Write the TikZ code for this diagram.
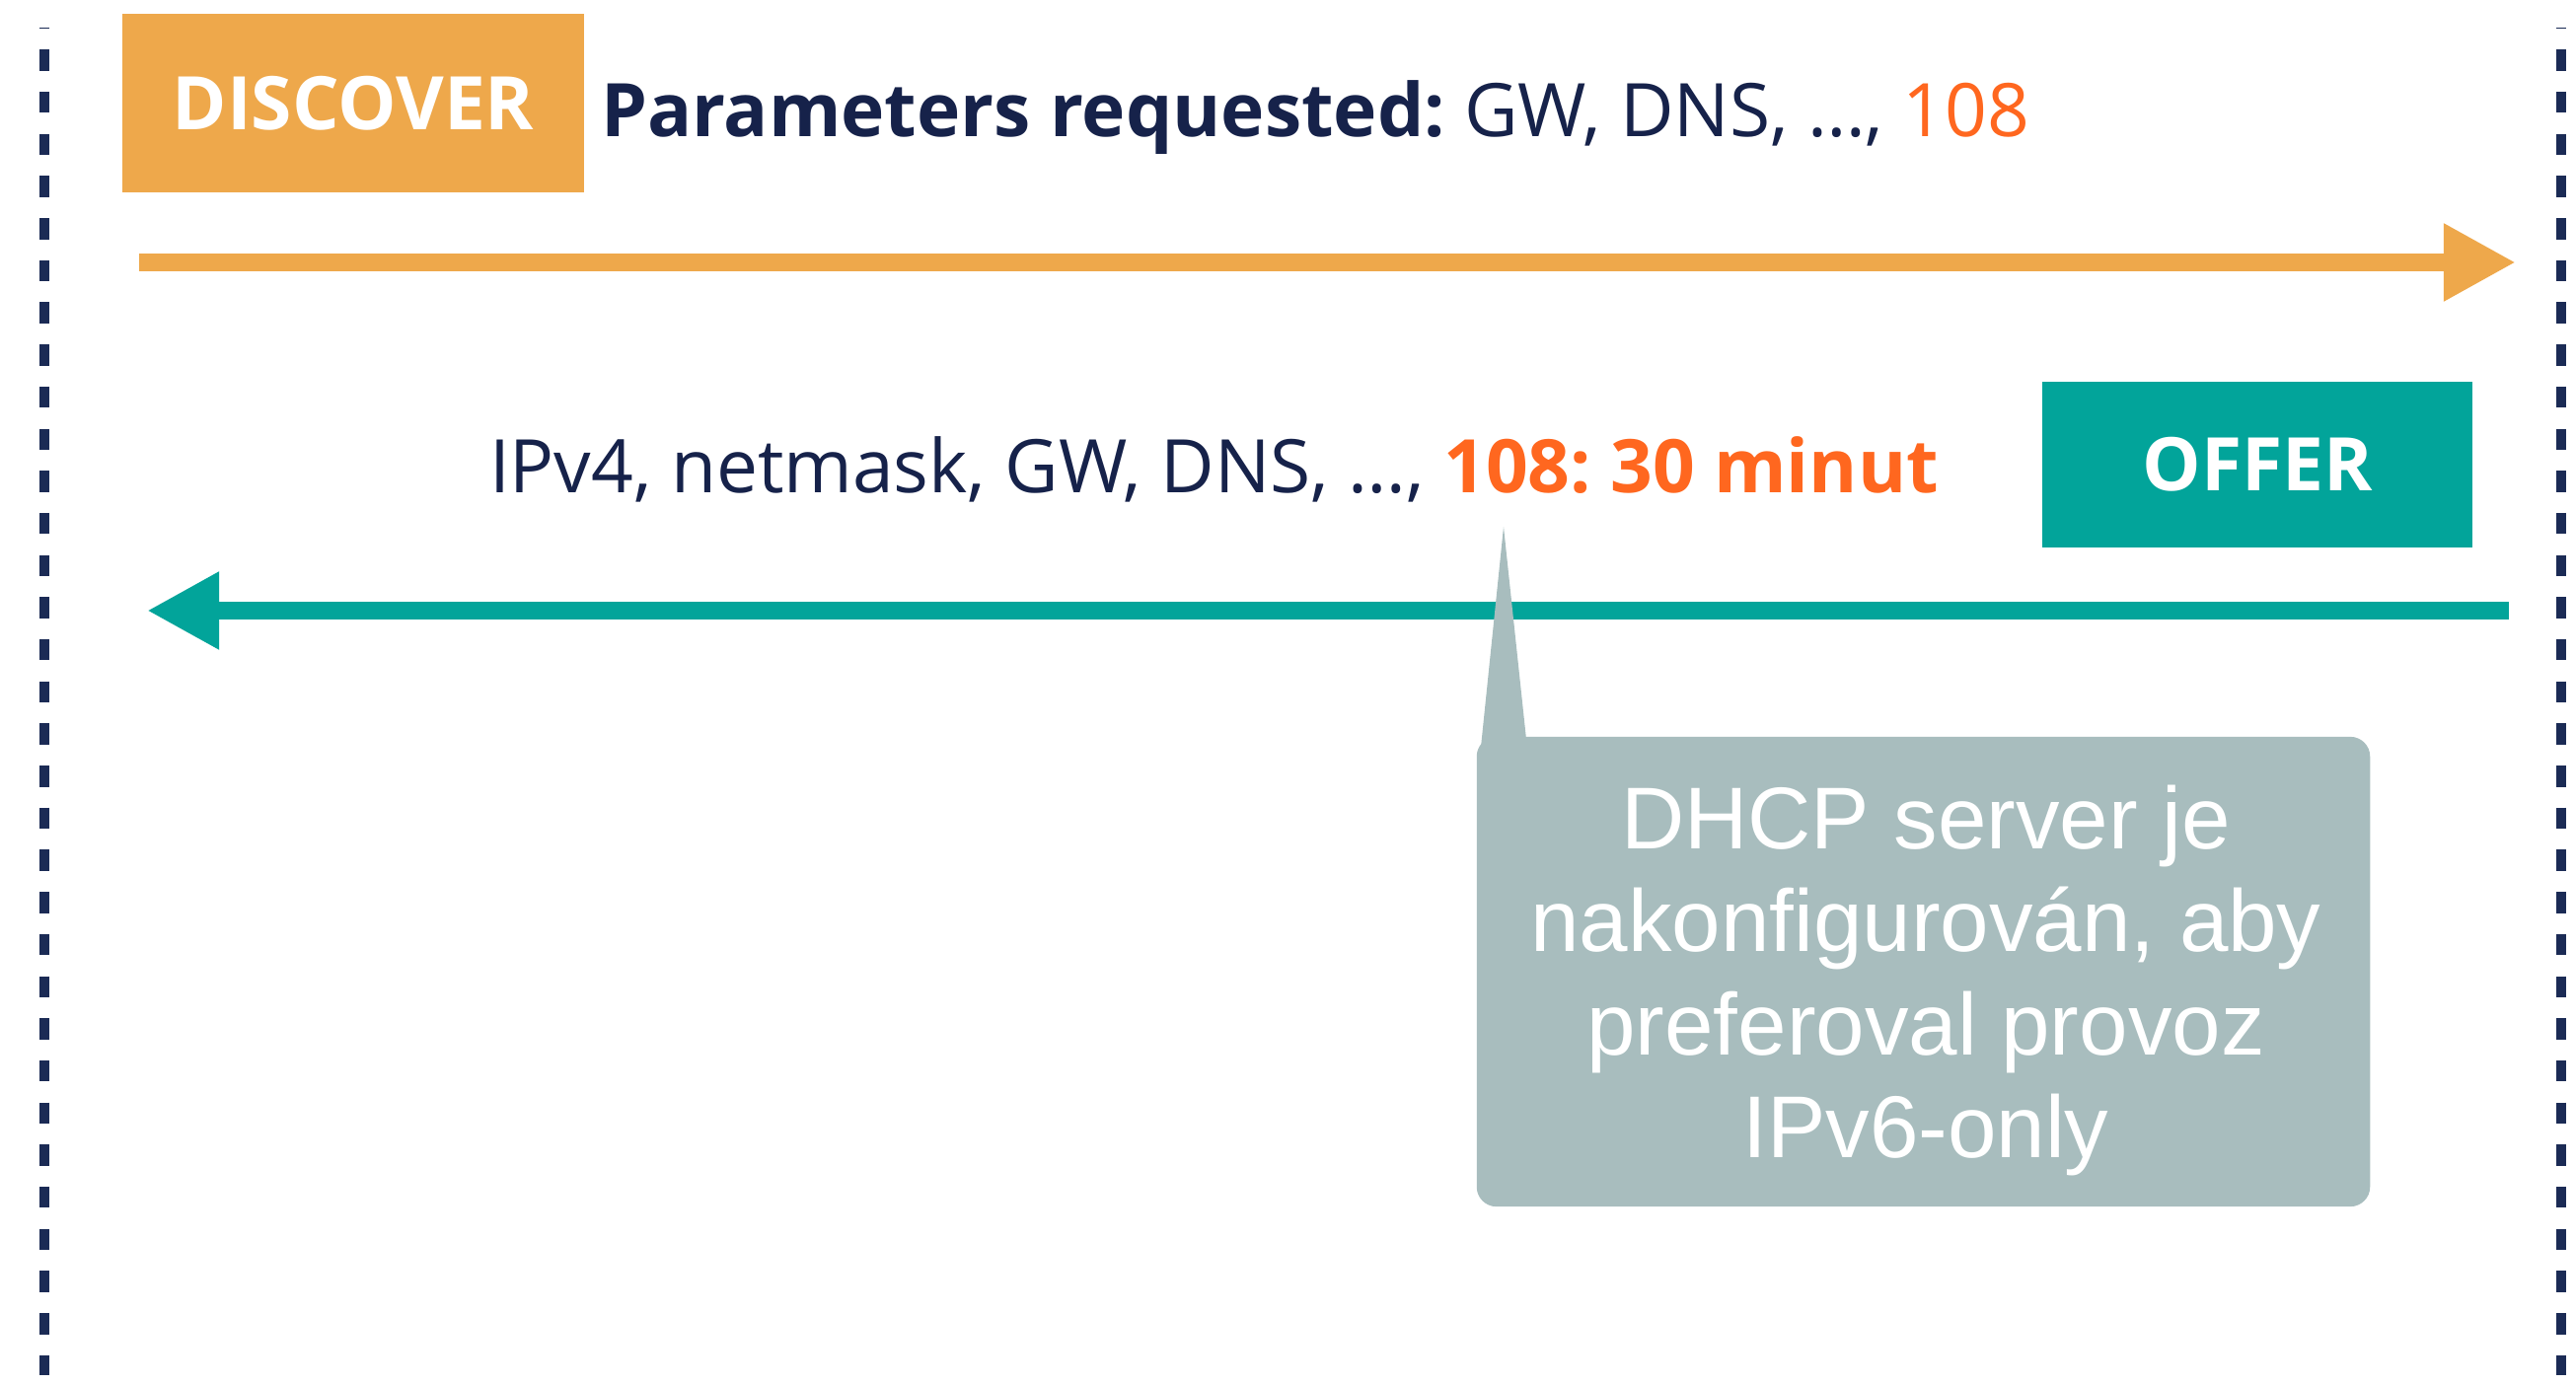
\documentclass[tikz,border=0pt]{standalone}
\usepackage{fontspec}
\setmainfont{Open Sans}
\newfontfamily\notefont{Liberation Sans}
\usepackage{tikz}
\usetikzlibrary{arrows.meta,positioning,calc}
\frenchspacing

\definecolor{discorange}{HTML}{EEA84B}
\definecolor{offerteal}{HTML}{02A49A}
\definecolor{navy}{HTML}{16224A}
\definecolor{hilite}{HTML}{FF671F}
\definecolor{notegrey}{HTML}{A8BDBE}
\definecolor{lifeline}{HTML}{1B2B55}

\begin{document}
\begin{tikzpicture}[x=0.01cm, y=-0.01cm, every node/.style={inner sep=0pt, outer sep=0pt},
	msgbox/.style={text=white, font=\bfseries\fontsize{21.3}{25}\selectfont},
	msgtext/.style={text=navy, anchor=base west, font=\fontsize{21.3}{25}\selectfont},
	life/.style={lifeline, line width=3.1pt, dash pattern=on 6.12pt off 6.02pt, dash phase=5.8pt},
	msg/.style={line width=5.2pt, -{Triangle[length=20.8pt, width=21pt]}},
	notetext/.style={text=white, align=center, font=\notefont\fontsize{25.3}{29.6}\selectfont}]

	\useasboundingbox (0,0) rectangle (2611,1404);

	\coordinate (cliTop) at (45,28);
	\coordinate (cliBot) at (45,1394);
	\coordinate (srvTop) at (2596,28);
	\coordinate (srvBot) at (2596,1394);
	\draw[life] (cliTop) -- (cliBot);
	\draw[life] (srvTop) -- (srvBot);

	\coordinate (discFrom) at (141,266);
	\coordinate (discTo) at (2550,266);
	\coordinate (offerFrom) at (2543,619);
	\coordinate (offerTo) at (149,619);
	\draw[msg, discorange] (discFrom) -- (discTo);
	\draw[msg, offerteal] (offerFrom) -- (offerTo);

	\node[msgbox, fill=discorange, minimum width=4.68cm, minimum height=1.81cm] (disc) at (358,104.5) {DISCOVER};
	\node[msgbox, fill=offerteal, minimum width=4.36cm, minimum height=1.68cm] (offer) at (2288,471) {OFFER};

	\node[msgtext] (params) at (609,139)
		{\textbf{Parameters requested:} GW, DNS, …, \textcolor{hilite}{108}};
	\node[msgtext] (offerParams) at (496,500)
		{IPv4, netmask, GW, DNS, …, \textcolor{hilite}{\textbf{108: 30 minut}}};

	\node[fill=notegrey, rounded corners=0.2cm, minimum width=9.05cm, minimum height=4.76cm] (note) at (1949.5,985) {};
	\fill[notegrey] ($(note.north west)+(4,13)$) -- (1524,534) -- ($(note.north west)+(50,0)$) -- cycle;
	\node[notetext] (noteText) at (1952,994)
		{DHCP server je\\ nakonfigurován, aby\\ preferoval provoz\\ IPv6-only};

\end{tikzpicture}
\end{document}
